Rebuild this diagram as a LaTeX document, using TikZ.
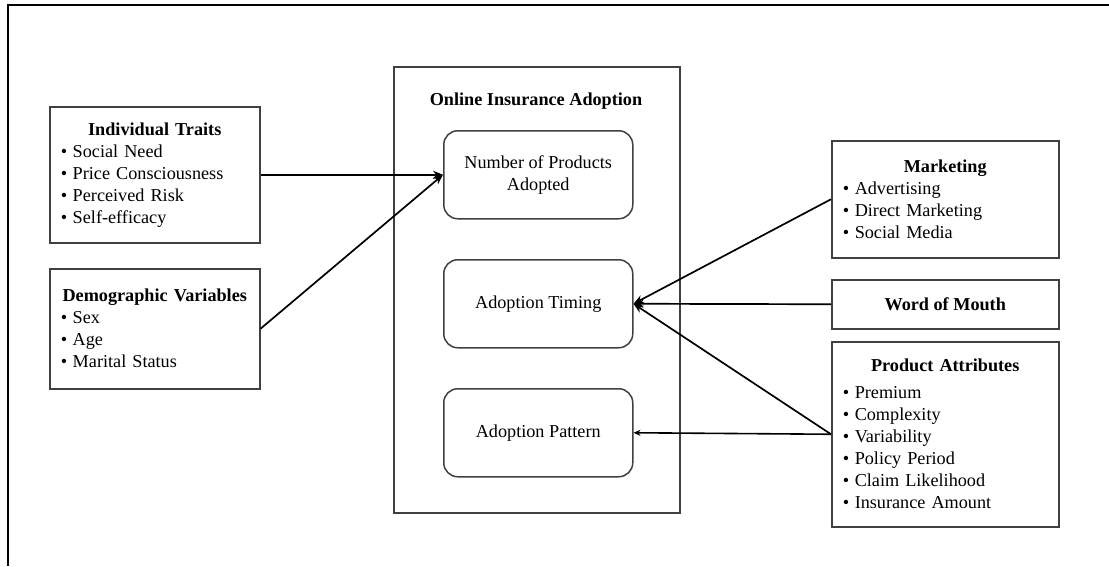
\documentclass[tikz,border=0pt]{standalone}
\usepackage{fontspec}
\setmainfont{Liberation Serif}
\usetikzlibrary{arrows.meta}

\newcommand{\boxhead}[1]{\hfill\textbf{#1}\hfill\null}
\newcommand{\itm}[1]{\makebox[12pt][l]{\textbullet}#1}

\begin{document}
\begin{tikzpicture}[x=1pt,y=-1pt,
  font=\fontsize{18.2}{22}\selectfont,
  factor/.style={draw=black!75, line width=1.5pt, rectangle, align=left, anchor=north west, inner ysep=0pt},
  stage/.style={draw=black!75, line width=1.5pt, rounded corners=14pt, minimum width=189pt, minimum height=88pt, align=center, anchor=north west},
  arr/.style={line width=1.7pt, -{Stealth[length=10pt,width=8pt]}},
  smallarr/.style={line width=1.6pt, -{Stealth[length=7pt,width=6pt]}}]
  \useasboundingbox (0,0) rectangle (1109,566);
  \draw[line width=1.5pt] (1109,5) -- (8,5) -- (8,566);

  % left side
  \node[factor, text width=188pt, inner xsep=11pt, minimum height=136pt] (traits) at (49,106)
    {\boxhead{Individual Traits}\\ \itm{Social Need}\\ \itm{Price Consciousness}\\ \itm{Perceived Risk}\\ \itm{Self-efficacy}};
  \node[factor, text width=188pt, inner xsep=11pt, minimum height=120pt] (demo) at (49,268)
    {\boxhead{Demographic Variables}\\ \itm{Sex}\\ \itm{Age}\\ \itm{Marital Status}};

  % adoption
  \node[draw=black!75, line width=1.5pt, minimum width=286pt, minimum height=446pt, anchor=north west] (adoption) at (393,66) {};
  \node[font=\fontsize{18.2}{22}\selectfont\bfseries] (adoptiontitle) at (536,101) {Online Insurance Adoption};
  \node[stage] (number) at (443,130) {Number of Products\\Adopted};
  \node[stage] (timing) at (443,259) {Adoption Timing};
  \node[stage] (pattern) at (443,388) {Adoption Pattern};

  % right side
  \node[factor, text width=205pt, inner xsep=11pt, minimum height=117pt] (marketing) at (831,140)
    {\boxhead{Marketing}\\ \itm{Advertising}\\ \itm{Direct Marketing}\\ \itm{Social Media}};
  \node[factor, minimum width=227pt, minimum height=49pt] (wom) at (831,279) {\textbf{Word of Mouth}};
  \node[factor, text width=205pt, inner xsep=11pt, minimum height=185pt] (product) at (831,341)
    {\boxhead{Product Attributes}\\[5pt] \itm{Premium}\\ \itm{Complexity}\\ \itm{Variability}\\ \itm{Policy Period}\\ \itm{Claim Likelihood}\\ \itm{Insurance Amount}};

  \draw[arr] (traits.east) -- (number.west);
  \draw[arr] (demo.east) -- (number.west);
  \draw[arr] (marketing.west) -- (timing.east);
  \draw[arr] (wom.west) -- (timing.east);
  \draw[arr] (product.west) -- (timing.east);
  \draw[smallarr] (product.west) -- (pattern.east);
\end{tikzpicture}
\end{document}
